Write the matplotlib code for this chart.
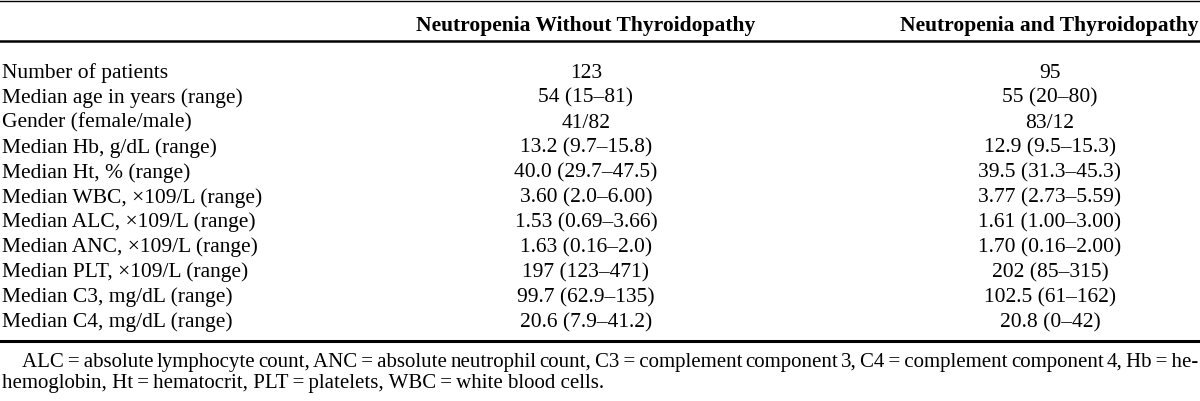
import matplotlib
matplotlib.use("Agg")
import matplotlib.pyplot as plt

col_headers = ["Neutropenia Without Thyroidopathy", "Neutropenia and Thyroidopathy"]
row_labels = [
    "Number of patients",
    "Median age in years (range)",
    "Gender (female/male)",
    "Median Hb, g/dL (range)",
    "Median Ht, % (range)",
    "Median WBC, \u00d7109/L (range)",
    "Median ALC, \u00d7109/L (range)",
    "Median ANC, \u00d7109/L (range)",
    "Median PLT, \u00d7109/L (range)",
    "Median C3, mg/dL (range)",
    "Median C4, mg/dL (range)",
]
without_thyro = [
    "123", "54 (15\u201381)", "41/82", "13.2 (9.7\u201315.8)", "40.0 (29.7\u201347.5)",
    "3.60 (2.0\u20136.00)", "1.53 (0.69\u20133.66)", "1.63 (0.16\u20132.0)",
    "197 (123\u2013471)", "99.7 (62.9\u2013135)", "20.6 (7.9\u201341.2)",
]
with_thyro = [
    "95", "55 (20\u201380)", "83/12", "12.9 (9.5\u201315.3)", "39.5 (31.3\u201345.3)",
    "3.77 (2.73\u20135.59)", "1.61 (1.00\u20133.00)", "1.70 (0.16\u20132.00)",
    "202 (85\u2013315)", "102.5 (61\u2013162)", "20.8 (0\u201342)",
]
eq = "\u2009=\u2009"
foot_line1 = ("ALC" + eq + "absolute lymphocyte count, ANC" + eq + "absolute neutrophil count, C3" + eq
              + "complement component 3, C4" + eq + "complement component 4, Hb" + eq + "he-")
foot_line2 = ("hemoglobin, Ht" + eq + "hematocrit, PLT" + eq + "platelets, WBC" + eq
              + "white blood cells.")

W, H = 1200, 401
FS = 15.5
FS_FOOT = 15.0
font = ["Liberation Serif", "DejaVu Serif"]

fig = plt.figure(figsize=(W / 100, H / 100), dpi=100)
ax = fig.add_axes([0, 0, 1, 1])
ax.set_xlim(0, W)
ax.set_ylim(H, 0)
ax.axis("off")

# rules
ax.plot([0, W], [1, 1], color="black", lw=1.0)
ax.plot([0, W], [41, 41], color="black", lw=1.8)
ax.plot([0, W], [341, 341], color="black", lw=2.2)

col_x = [586, 1050]

ax.text(col_x[0], 31, col_headers[0], ha="center", va="baseline", fontsize=FS,
        fontweight="bold", family=font)
ax.text(1198, 31, col_headers[1], ha="right", va="baseline", fontsize=FS,
        fontweight="bold", family=font)

y0, dy = 78, 24.9
for i, lab in enumerate(row_labels):
    y = y0 + i * dy
    ax.text(2, y, lab, ha="left", va="baseline", fontsize=FS, family=font)
    ax.text(col_x[0], y, without_thyro[i], ha="center", va="baseline", fontsize=FS, family=font)
    ax.text(col_x[1], y, with_thyro[i], ha="center", va="baseline", fontsize=FS, family=font)

# footnote, first line justified between 22 and 1198
renderer = fig.canvas.get_renderer()
words = foot_line1.split(" ")
items = []
total = 0
for w in words:
    t = ax.text(0, 367, w, ha="left", va="baseline", fontsize=FS_FOOT, family=font)
    wd = t.get_window_extent(renderer).width
    items.append((t, wd))
    total += wd
left, right = 22, 1198
gap = max((right - left - total) / (len(words) - 1), 3)
x = left
for t, wd in items:
    t.set_x(x)
    x += wd + gap

ax.text(2, 388, foot_line2, ha="left", va="baseline", fontsize=FS_FOOT, family=font)

fig.savefig("out.png", dpi=100)
